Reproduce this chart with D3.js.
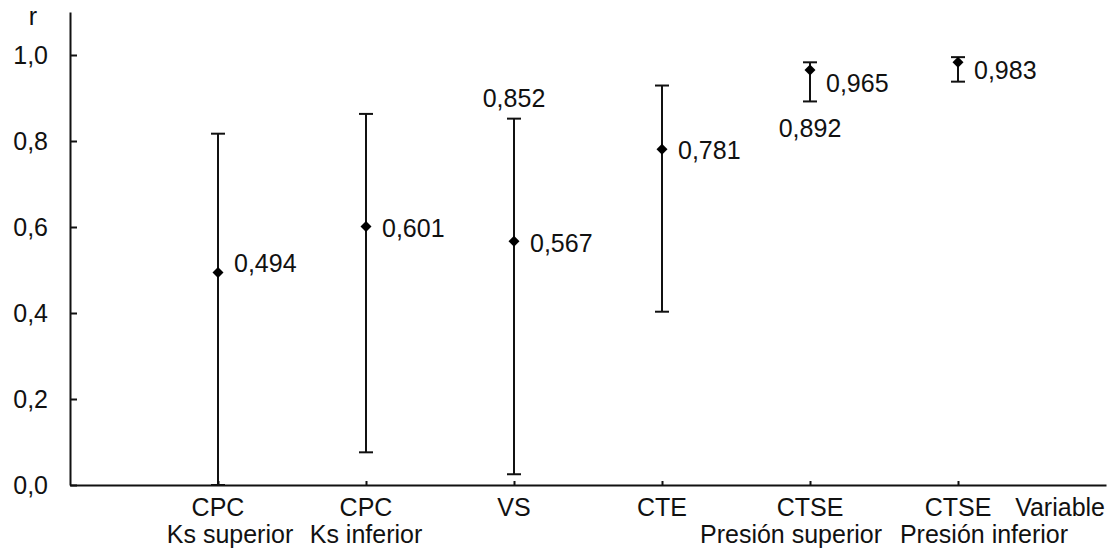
<!DOCTYPE html>
<html>
<head>
<meta charset="utf-8">
<script src="https://cdn.jsdelivr.net/npm/d3@7"></script>
<style>
  body { margin: 0; background: #fff; }
  svg text { font-family: "Liberation Sans", Arial, sans-serif; font-size: 25px; fill: #111; }
  .axis path, .axis line { stroke: #111; stroke-width: 2px; }
</style>
</head>
<body>
<div id="chart"></div>
<script>
// data
var categories = ["CPC", "CPC", "VS", "CTE", "CTSE", "CTSE"];
var subLabels = ["Ks superior", "Ks inferior", "", "", "Presi\u00f3n superior", "Presi\u00f3n inferior"];
var rValues = [0.494, 0.601, 0.567, 0.781, 0.965, 0.983];
var upperValues = [0.817, 0.863, 0.852, 0.929, 0.983, 0.995];
var lowerValues = [0.0, 0.076, 0.025, 0.403, 0.892, 0.938];
var yTicks = [0, 0.2, 0.4, 0.6, 0.8, 1.0];
// extra bound labels: which point and which end
var boundLabels = [{idx: 2, end: "upper", text: "0,852"}, {idx: 4, end: "lower", text: "0,892"}];

// layout
var labelDy = [-9, 2, 2, 1, 13, 8];
var subLabelDx = [12, 0, 0, 0, -19, 26];

var width = 1111, height = 551;
var svg = d3.select("#chart").append("svg")
    .attr("width", width)
    .attr("height", height);

var x = d3.scaleLinear().domain([0, 7]).range([70, 1106]);
var y = d3.scaleLinear().domain([0, 1.1]).range([485, 12]);

var fmt = function(v){ return d3.format(".1f")(v).replace(".", ","); };
var fmt3 = function(v){ return d3.format(".3f")(v).replace(".", ","); };

// y axis
var yAxis = d3.axisLeft(y)
    .tickValues(yTicks)
    .tickSizeInner(-7)
    .tickSizeOuter(0)
    .tickPadding(22)
    .tickFormat(fmt);

var gy = svg.append("g")
    .attr("class", "axis")
    .attr("transform", "translate(" + x(0) + ",0)")
    .call(yAxis);
gy.selectAll("text").attr("font-size", null).attr("font-family", null).attr("dy", "0.35em");

// x axis
var xAxis = d3.axisBottom(x)
    .tickValues(d3.range(1, categories.length + 1))
    .tickSizeInner(-4)
    .tickSizeOuter(0)
    .tickFormat("");

svg.append("g")
    .attr("class", "axis")
    .attr("transform", "translate(0," + y(0) + ")")
    .call(xAxis);

// axis titles
svg.append("text").attr("x", 33).attr("y", 25).attr("text-anchor", "middle").text("r");
svg.append("text").attr("x", 1105).attr("y", 516).attr("text-anchor", "end").text("Variable");

// category labels
categories.forEach(function(c, i){
    svg.append("text")
        .attr("x", x(i + 1))
        .attr("y", 516)
        .attr("text-anchor", "middle")
        .text(c);
    if (subLabels[i]) {
        svg.append("text")
            .attr("x", x(i + 1) + subLabelDx[i])
            .attr("y", 543)
            .attr("text-anchor", "middle")
            .text(subLabels[i]);
    }
});

// error bars
var bars = svg.selectAll(".bar").data(rValues).enter().append("g").attr("class", "bar");

bars.append("line")
    .attr("x1", function(d, i){ return x(i + 1); })
    .attr("x2", function(d, i){ return x(i + 1); })
    .attr("y1", function(d, i){ return y(upperValues[i]); })
    .attr("y2", function(d, i){ return y(lowerValues[i]); })
    .attr("stroke", "#111").attr("stroke-width", 2);

bars.append("line")
    .attr("x1", function(d, i){ return x(i + 1) - 7; })
    .attr("x2", function(d, i){ return x(i + 1) + 7; })
    .attr("y1", function(d, i){ return y(upperValues[i]); })
    .attr("y2", function(d, i){ return y(upperValues[i]); })
    .attr("stroke", "#111").attr("stroke-width", 2);

bars.append("line")
    .attr("x1", function(d, i){ return x(i + 1) - 7; })
    .attr("x2", function(d, i){ return x(i + 1) + 7; })
    .attr("y1", function(d, i){ return y(lowerValues[i]); })
    .attr("y2", function(d, i){ return y(lowerValues[i]); })
    .attr("stroke", "#111").attr("stroke-width", 2);

bars.append("path")
    .attr("d", d3.symbol().type(d3.symbolSquare).size(60))
    .attr("transform", function(d, i){ return "translate(" + x(i + 1) + "," + y(d) + ") rotate(45)"; })
    .attr("fill", "#000");

bars.append("text")
    .attr("x", function(d, i){ return x(i + 1) + 16; })
    .attr("y", function(d, i){ return y(d) + labelDy[i]; })
    .attr("dy", "0.35em")
    .text(function(d){ return fmt3(d); });

// bound labels
boundLabels.forEach(function(b){
    var v = b.end === "upper" ? upperValues[b.idx] : lowerValues[b.idx];
    svg.append("text")
        .attr("x", x(b.idx + 1))
        .attr("y", b.end === "upper" ? y(v) - 20 : y(v) + 27)
        .attr("dy", "0.35em")
        .attr("text-anchor", "middle")
        .text(b.text);
});
</script>
</body>
</html>
